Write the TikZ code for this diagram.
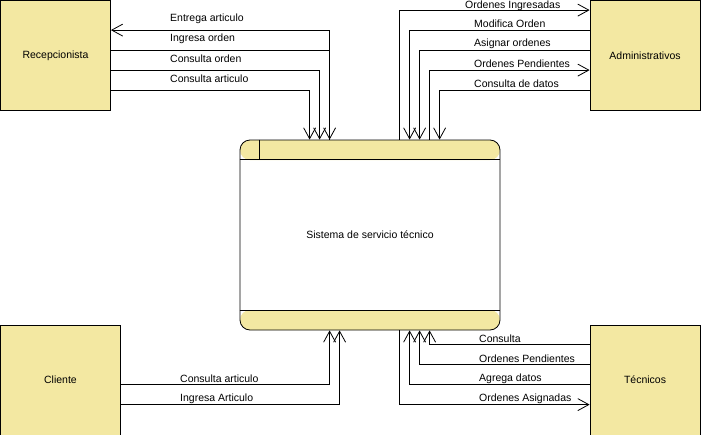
\documentclass[tikz,border=0pt]{standalone}
\usepackage{fontspec}
\setmainfont{Liberation Sans}
\usetikzlibrary{arrows.meta}
\definecolor{boxfill}{RGB}{243,232,162}

\tikzset{
  entity/.style={draw, fill=boxfill, line width=0.8pt, minimum width=110pt, minimum height=110pt, inner sep=0pt},
  process/.style={draw, line width=0.8pt, rounded corners=10pt, minimum width=260pt, minimum height=190pt,
    path picture={
      \fill[boxfill] (path picture bounding box.north west) rectangle ([yshift=-20pt]path picture bounding box.north east);
      \fill[boxfill] ([yshift=20pt]path picture bounding box.south west) rectangle (path picture bounding box.south east);
    }},
  flow/.style={line width=0.8pt, -{Straight Barb[length=11pt,width=12pt]}},
  lbl/.style={anchor=west, inner sep=0pt},
}

\begin{document}
\begin{tikzpicture}[x=1pt, y=-1pt, font=\fontsize{10.5}{12}\selectfont]
    \useasboundingbox (0,0) rectangle (704,434);
    % external entities
    \node[entity] (rec) at (55.5,55.5) {Recepcionista};
    \node[entity] (adm) at (645,55.5) {Administrativos};
    \node[entity, minimum width=120pt] (cli) at (60.5,380) {Cliente};
    \node[entity] (tec) at (645,380) {Técnicos};
    % the process
    \node[process] (sys) at (370,235) {Sistema de servicio técnico};
    \draw[line width=0.8pt] ([yshift=-20pt]sys.north west) -- ([yshift=-20pt]sys.north east);
    \draw[line width=0.8pt] ([xshift=20pt]sys.north west) -- ([xshift=20pt,yshift=-20pt]sys.north west);
    \draw[line width=0.8pt] ([yshift=20pt]sys.south west) -- ([yshift=20pt]sys.south east);

    % Recepcionista flows
    \draw[flow] ([xshift=90pt]sys.north west) |- ([yshift=-30pt]rec.north east);
    \draw[flow] ([yshift=-50pt]rec.north east) -| ([xshift=90pt]sys.north west);
    \draw[flow] ([yshift=-70pt]rec.north east) -| ([xshift=80pt]sys.north west);
    \draw[flow] ([yshift=-90pt]rec.north east) -| ([xshift=70pt]sys.north west);
    \foreach \y/\txt [count=\i] in {19/Entrega articulo, 39/Ingresa orden, 59/Consulta orden, 79/Consulta articulo}
        \node[lbl] (rl\i) at (170,\y) {\txt};

    % Administrativos flows
    \draw[flow] ([xshift=160pt]sys.north west) |- ([yshift=-10pt]adm.north west);
    \draw[flow] ([yshift=-30pt]adm.north west) -| ([xshift=170pt]sys.north west);
    \draw[flow] ([yshift=-50pt]adm.north west) -| ([xshift=180pt]sys.north west);
    \draw[flow] ([xshift=190pt]sys.north west) |- ([yshift=-70pt]adm.north west);
    \draw[flow] ([yshift=-90pt]adm.north west) -| ([xshift=200pt]sys.north west);
    \node[lbl] (al1) at (465,6) {Ordenes Ingresadas};
    \foreach \y/\txt [count=\i from 2] in {24/Modifica Orden, 44/Asignar ordenes, 64/Ordenes Pendientes, 84/Consulta de datos}
        \node[lbl] (al\i) at (474,\y) {\txt};

    % Cliente flows
    \draw[flow] ([yshift=-60pt]cli.north east) -| ([xshift=90pt]sys.south west);
    \draw[flow] ([yshift=-80pt]cli.north east) -| ([xshift=100pt]sys.south west);
    \node[lbl] (cl1) at (180,379) {Consulta articulo};
    \node[lbl] (cl2) at (180,399) {Ingresa Articulo};

    % Tecnicos flows
    \draw[flow] ([yshift=-20pt]tec.north west) -| ([xshift=190pt]sys.south west);
    \draw[flow] ([yshift=-40pt]tec.north west) -| ([xshift=180pt]sys.south west);
    \draw[flow] ([yshift=-60pt]tec.north west) -| ([xshift=170pt]sys.south west);
    \draw[flow] ([xshift=160pt]sys.south west) |- ([yshift=-80pt]tec.north west);
    \foreach \y/\txt [count=\i] in {339/Consulta, 359/Ordenes Pendientes, 379/Agrega datos, 399/Ordenes Asignadas}
        \node[lbl] (tl\i) at (479,\y) {\txt};
\end{tikzpicture}
\end{document}
